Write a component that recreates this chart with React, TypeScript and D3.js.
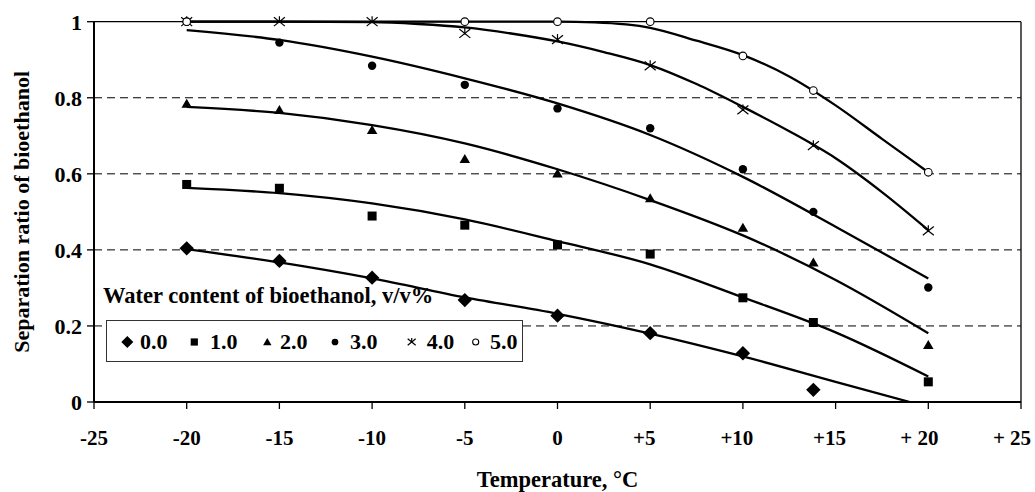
import React from "react";
import * as d3 from "d3";

// ---- data ----
const seriesNames = ["0.0", "1.0", "2.0", "3.0", "4.0", "5.0"];

const pointT0 = [-20, -15, -10, -5, 0, 5, 10, 13.8];
const pointV0 = [0.404, 0.371, 0.327, 0.268, 0.227, 0.181, 0.128, 0.032];
const pointT = [-20, -15, -10, -5, 0, 5, 10, 13.8, 20];
const pointV1 = [0.572, 0.562, 0.489, 0.465, 0.413, 0.389, 0.274, 0.209, 0.053];
const pointV2 = [0.784, 0.768, 0.715, 0.639, 0.601, 0.536, 0.458, 0.367, 0.15];
const pointV3 = [1.0, 0.945, 0.884, 0.834, 0.772, 0.72, 0.612, 0.5, 0.301];
const pointV4 = [1.0, 1.0, 1.0, 0.969, 0.953, 0.884, 0.768, 0.674, 0.45];
const pointT5 = [-20, -5, 0, 5, 10, 13.8, 20];
const pointV5 = [1.0, 1.0, 1.0, 1.0, 0.91, 0.819, 0.604];

// fitted trend lines
const trendT0 = [-20, -15, -10, -5, 0, 5, 10, 15, 19];
const trendV0 = [0.402, 0.367, 0.325, 0.275, 0.232, 0.18, 0.12, 0.053, 0.0];
const trendT = [-20, -15, -10, -5, 0, 5, 10, 15, 20];
const trendV1 = [0.563, 0.549, 0.522, 0.48, 0.423, 0.362, 0.275, 0.183, 0.067];
const trendV2 = [0.776, 0.76, 0.728, 0.68, 0.612, 0.531, 0.438, 0.321, 0.181];
const trendV3 = [0.978, 0.952, 0.908, 0.851, 0.785, 0.702, 0.592, 0.461, 0.325];
const trendT4 = [-20, -15, -10, -7.5, -5, -2.5, 0, 2.5, 5, 7.5, 10, 12.5, 15, 17.5, 20];
const trendV4 = [1.0, 1.0, 0.999, 0.994, 0.985, 0.969, 0.948, 0.92, 0.886, 0.836, 0.776, 0.712, 0.641, 0.552, 0.452];
const trendT5 = [-20, -15, -10, -5, 0, 2, 5, 7.5, 10, 12.5, 15, 17.5, 20];
const trendV5 = [1.0, 1.0, 1.0, 1.0, 1.0, 0.998, 0.984, 0.95, 0.912, 0.856, 0.78, 0.692, 0.604];

const xTickValues = [-25, -20, -15, -10, -5, 0, 5, 10, 15, 20, 25];
const xTickLabels = ["-25", "-20", "-15", "-10", "-5", "0", "+5", "+10", "+15", "+ 20", "+ 25"];
const yTickValues = [0, 0.2, 0.4, 0.6, 0.8, 1];
const yTickLabels = ["0", "0.2", "0.4", "0.6", "0.8", "1"];
const gridValues = [0.2, 0.4, 0.6, 0.8];

const xTitle = "Temperature, °C";
const yTitle = "Separation ratio of bioethanol";
const legendTitle = "Water content of bioethanol, v/v%";

const W = 1035;
const H = 492;
const M = { left: 94, right: 1021, top: 21.7, bottom: 402 };
const FONT = "'Liberation Serif', 'Times New Roman', serif";

type Kind = "diamond" | "square" | "triangle" | "circle" | "star" | "open";
const kinds: Kind[] = ["diamond", "square", "triangle", "circle", "star", "open"];

function Marker({ kind, x, y, s }: { kind: Kind; x: number; y: number; s: number }) {
  if (kind === "diamond") {
    const r = s * 0.6;
    return <path d={`M${x},${y - r}L${x + r},${y}L${x},${y + r}L${x - r},${y}Z`} fill="#000" />;
  }
  if (kind === "square") {
    const r = s * 0.45;
    return <rect x={x - r} y={y - r} width={2 * r} height={2 * r} fill="#000" />;
  }
  if (kind === "triangle") {
    const r = s * 0.5;
    return <path d={`M${x},${y - r}L${x + r * 1.05},${y + r * 0.8}L${x - r * 1.05},${y + r * 0.8}Z`} fill="#000" />;
  }
  if (kind === "circle") {
    return <circle cx={x} cy={y} r={s * 0.42} fill="#000" />;
  }
  if (kind === "star") {
    const r = s * 0.5;
    return (
      <g stroke="#000" strokeWidth={1.2}>
        <line x1={x} y1={y - r} x2={x} y2={y + r * 0.2} />
        <line x1={x - r} y1={y - r * 0.8} x2={x + r} y2={y + r * 0.8} />
        <line x1={x + r} y1={y - r * 0.8} x2={x - r} y2={y + r * 0.8} />
      </g>
    );
  }
  return <circle cx={x} cy={y} r={s * 0.38} fill="#fff" stroke="#000" strokeWidth={1.1} />;
}

export default function App() {
  const x = d3.scaleLinear().domain([-25, 25]).range([M.left, M.right]);
  const y = d3.scaleLinear().domain([0, 1]).range([M.bottom, M.top]);

  const points = [
    { t: pointT0, v: pointV0 },
    { t: pointT, v: pointV1 },
    { t: pointT, v: pointV2 },
    { t: pointT, v: pointV3 },
    { t: pointT, v: pointV4 },
    { t: pointT5, v: pointV5 },
  ];
  const trends = [
    { t: trendT0, v: trendV0 },
    { t: trendT, v: trendV1 },
    { t: trendT, v: trendV2 },
    { t: trendT, v: trendV3 },
    { t: trendT4, v: trendV4 },
    { t: trendT5, v: trendV5 },
  ];

  const line = d3
    .line<[number, number]>()
    .x((d) => x(d[0]))
    .y((d) => y(d[1]))
    .curve(d3.curveMonotoneX);

  const legendItems = [
    { mx: 127.3, tx: 140 },
    { mx: 194.3, tx: 210 },
    { mx: 267.3, tx: 280 },
    { mx: 335, tx: 350 },
    { mx: 411.7, tx: 426.7 },
    { mx: 475.7, tx: 490 },
  ];

  const labelShift = (lab: string) => (lab.startsWith("+ ") ? -9 : lab.startsWith("+") ? -6 : 0);

  return (
    <svg
      width={W}
      height={H}
      style={{ position: "absolute", left: 0, top: 0, background: "#fff" }}
      fontFamily={FONT}
      fontWeight="bold"
    >
      <rect x={0} y={0} width={W} height={H} fill="#fff" />
      {/* gridlines */}
      {gridValues.map((g) => (
        <line
          key={g}
          x1={M.left}
          x2={M.right}
          y1={y(g)}
          y2={y(g)}
          stroke="#000"
          strokeWidth={1}
          strokeDasharray="8,5"
        />
      ))}
      {/* plot frame */}
      <line x1={M.left} x2={M.right} y1={y(1)} y2={y(1)} stroke="#000" strokeWidth={1.3} />
      <line x1={M.right} x2={M.right} y1={M.top} y2={M.bottom} stroke="#000" strokeWidth={1.3} />
      <line x1={M.left} x2={M.left} y1={M.top} y2={M.bottom} stroke="#000" strokeWidth={2} />
      <line x1={M.left} x2={M.right} y1={M.bottom} y2={M.bottom} stroke="#000" strokeWidth={2} />

      {/* x ticks */}
      {xTickValues.map((t, i) => (
        <g key={t}>
          <line x1={x(t)} x2={x(t)} y1={M.bottom} y2={M.bottom + 7} stroke="#000" strokeWidth={1.3} />
          <text x={x(t) + labelShift(xTickLabels[i])} y={445} textAnchor="middle" fontSize={21}>
            {xTickLabels[i]}
          </text>
        </g>
      ))}
      {/* y ticks */}
      {yTickValues.map((v, i) => (
        <g key={v}>
          <line x1={M.left - 7} x2={M.left} y1={y(v)} y2={y(v)} stroke="#000" strokeWidth={1.3} />
          <text x={82} y={y(v) + 7.8} textAnchor="end" fontSize={22}>
            {yTickLabels[i]}
          </text>
        </g>
      ))}

      {/* trend lines */}
      <defs>
        <clipPath id="plotclip">
          <rect x={M.left} y={M.top - 3} width={M.right - M.left} height={M.bottom - M.top + 3} />
        </clipPath>
      </defs>
      <g clipPath="url(#plotclip)">
        {trends.map((s, i) => (
          <path
            key={i}
            d={line(s.t.map((t, j) => [t, s.v[j]] as [number, number])) || ""}
            fill="none"
            stroke="#000"
            strokeWidth={2.3}
          />
        ))}
      </g>

      {/* data points */}
      {points.map((s, i) =>
        s.t.map((t, j) => (
          <Marker key={`${i}-${j}`} kind={kinds[i]} x={x(t)} y={y(s.v[j])} s={i === 0 ? 12 : i === 4 ? 11 : 10} />
        ))
      )}

      {/* legend */}
      <text x={103} y={303} fontSize={22.5}>
        {legendTitle}
      </text>
      <rect x={106.5} y={320.5} width={416} height={41} fill="#fff" stroke="#333" strokeWidth={1} />
      {legendItems.map((it, i) => (
        <g key={i}>
          <Marker kind={kinds[i]} x={it.mx} y={342} s={i === 0 ? 10 : 8} />
          <text x={it.tx} y={348.5} fontSize={22}>
            {seriesNames[i]}
          </text>
        </g>
      ))}

      {/* axis titles */}
      <text x={(M.left + M.right) / 2} y={487} textAnchor="middle" fontSize={22.5}>
        {xTitle}
      </text>
      <text
        transform={`translate(29,${(M.top + M.bottom) / 2}) rotate(-90)`}
        textAnchor="middle"
        fontSize={22}
      >
        {yTitle}
      </text>
    </svg>
  );
}
